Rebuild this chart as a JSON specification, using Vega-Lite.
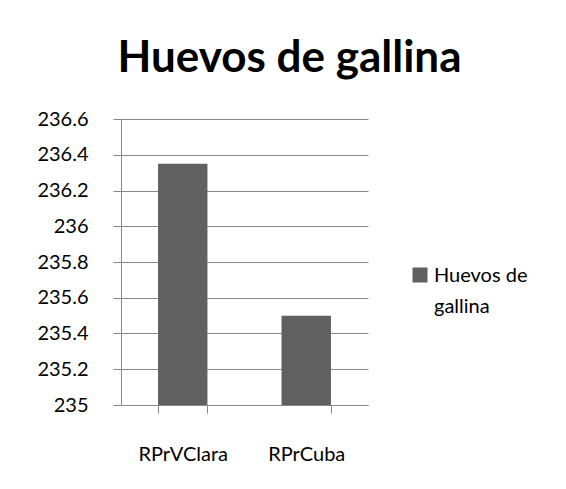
{
  "$schema": "https://vega.github.io/schema/vega-lite/v6.json",
  "width": 247,
  "height": 286,
  "autosize": {"type": "none"},
  "padding": {"left": 121, "top": 119, "right": 198, "bottom": 84},
  "background": "white",
  "title": {
    "text": "Huevos de gallina",
    "font": "Lato",
    "fontSize": 44,
    "fontWeight": "bold",
    "color": "#000000",
    "anchor": "middle",
    "dx": 45,
    "baseline": "alphabetic",
    "offset": -7
  },
  "data": {
    "values": [
      {"categoria": "RPrVClara", "serie": "Huevos de gallina", "valor": 236.35},
      {"categoria": "RPrCuba", "serie": "Huevos de gallina", "valor": 235.5}
    ]
  },
  "mark": {"type": "bar", "clip": true},
  "encoding": {
    "x": {
      "field": "categoria",
      "type": "nominal",
      "sort": null,
      "scale": {"paddingInner": 0.6, "paddingOuter": 0.3},
      "axis": {
        "title": null,
        "labelAngle": 0,
        "tickBand": "extent",
        "tickSize": 8,
        "tickColor": "#888888",
        "domainColor": "#888888",
        "labelFont": "Lato",
        "labelFontSize": 20,
        "labelColor": "#000000",
        "labelPadding": 31,
        "grid": false
      }
    },
    "y": {
      "field": "valor",
      "type": "quantitative",
      "scale": {"domain": [235, 236.6], "zero": false, "nice": false},
      "axis": {
        "title": null,
        "values": [235, 235.2, 235.4, 235.6, 235.8, 236, 236.2, 236.4, 236.6],
        "format": ".4~g",
        "tickSize": 8,
        "tickColor": "#888888",
        "domainColor": "#888888",
        "gridColor": "#888888",
        "gridOpacity": 1,
        "labelFont": "Lato",
        "labelFontSize": 20,
        "labelColor": "#000000",
        "labelPadding": 25
      }
    },
    "color": {
      "field": "serie",
      "type": "nominal",
      "scale": {"range": ["#606060"]},
      "legend": {
        "title": null,
        "orient": "none",
        "legendX": 289,
        "legendY": 146,
        "symbolType": "square",
        "symbolSize": 225,
        "symbolStrokeWidth": 0,
        "labelFont": "Lato",
        "labelFontSize": 20,
        "labelColor": "#000000",
        "labelExpr": "['Huevos de', 'gallina']",
        "labelLimit": 200,
        "labelOffset": 4,
        "labelBaseline": "top",
        "encode": {"labels": {"update": {"lineHeight": {"value": 31}, "dy": {"value": -9}}}}
      }
    }
  },
  "config": {
    "view": {"stroke": null}
  }
}
